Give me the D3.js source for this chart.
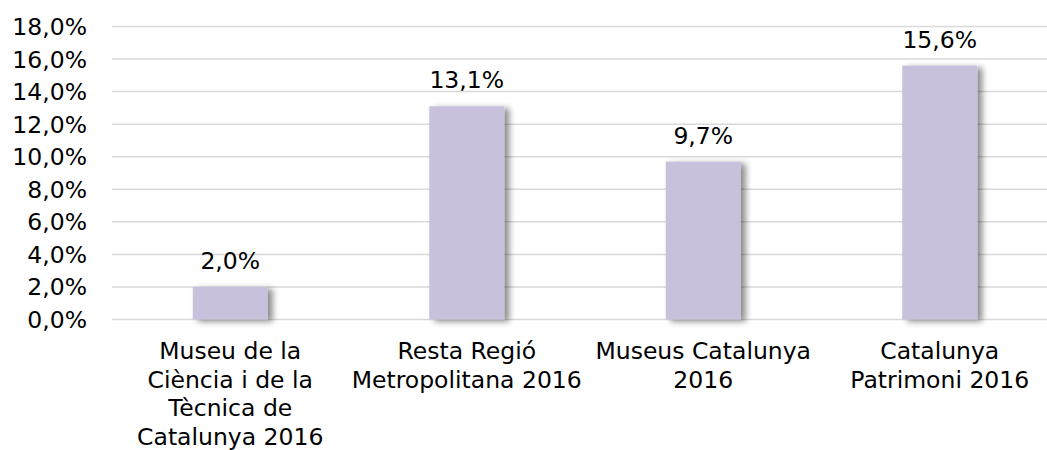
<!DOCTYPE html>
<html>
<head>
<meta charset="utf-8">
<script src="https://cdn.jsdelivr.net/npm/d3@7"></script>
<style>
  body { margin: 0; background: #fff; }
  svg { display: block; font-family: "DejaVu Sans", Verdana, sans-serif; }
</style>
</head>
<body>
<script>
const categories = [
  ["Museu de la", "Ciència i de la", "Tècnica de", "Catalunya 2016"],
  ["Resta Regió", "Metropolitana 2016"],
  ["Museus Catalunya", "2016"],
  ["Catalunya", "Patrimoni 2016"]
];
const values = [2.0, 13.1, 9.7, 15.6];
const yTicks = [0, 2, 4, 6, 8, 10, 12, 14, 16, 18];

const width = 1047, height = 450;
const fontSize = 23.5;
const fmt = v => v.toFixed(1).replace(".", ",") + "%";

const svg = d3.select("body").append("svg")
  .attr("width", width)
  .attr("height", height);

// shadow for bars
const defs = svg.append("defs");
const f = defs.append("filter").attr("id", "shadow")
  .attr("x", "-20%").attr("y", "-20%").attr("width", "150%").attr("height", "150%");
f.append("feDropShadow")
  .attr("dx", 5).attr("dy", 2)
  .attr("stdDeviation", 3)
  .attr("flood-color", "#000")
  .attr("flood-opacity", 0.45);

const x = d3.scaleBand()
  .domain(d3.range(categories.length))
  .range([112, 1058])
  .paddingInner(0.683)
  .paddingOuter(0.3415);

const y = d3.scaleLinear()
  .domain([0, 18])
  .range([319.5, 26.5]);

// gridlines
svg.append("g")
  .selectAll("line")
  .data(yTicks)
  .join("line")
    .attr("x1", 112)
    .attr("x2", 1058)
    .attr("y1", d => y(d))
    .attr("y2", d => y(d))
    .attr("stroke", "#d9d9d9")
    .attr("stroke-width", 1.5);

// y labels
svg.append("g")
  .attr("font-size", fontSize)
  .attr("fill", "#000")
  .attr("text-anchor", "end")
  .selectAll("text")
  .data(yTicks)
  .join("text")
    .attr("x", 87)
    .attr("y", d => y(d))
    .attr("dy", "0.36em")
    .text(d => fmt(d));

// bars
svg.append("g")
  .selectAll("rect")
  .data(values)
  .join("rect")
    .attr("x", (d, i) => x(i))
    .attr("y", d => y(d))
    .attr("width", x.bandwidth())
    .attr("height", d => y(0) - y(d))
    .attr("fill", "#c9c0dc")
    .attr("filter", "url(#shadow)");

// value labels
svg.append("g")
  .attr("font-size", fontSize)
  .attr("text-anchor", "middle")
  .selectAll("text")
  .data(values)
  .join("text")
    .attr("x", (d, i) => x(i) + x.bandwidth() / 2)
    .attr("y", d => y(d) - 18)
    .text(d => fmt(d));

// category labels
const cat = svg.append("g")
  .attr("font-size", fontSize)
  .attr("text-anchor", "middle")
  .selectAll("text")
  .data(categories)
  .join("text")
    .attr("x", (d, i) => x(i) + x.bandwidth() / 2)
    .attr("y", 359);

cat.selectAll("tspan")
  .data(d => d)
  .join("tspan")
    .attr("x", function() { return this.parentNode.getAttribute("x"); })
    .attr("dy", (d, i) => i === 0 ? 0 : 28.5)
    .text(d => d);
</script>
</body>
</html>
